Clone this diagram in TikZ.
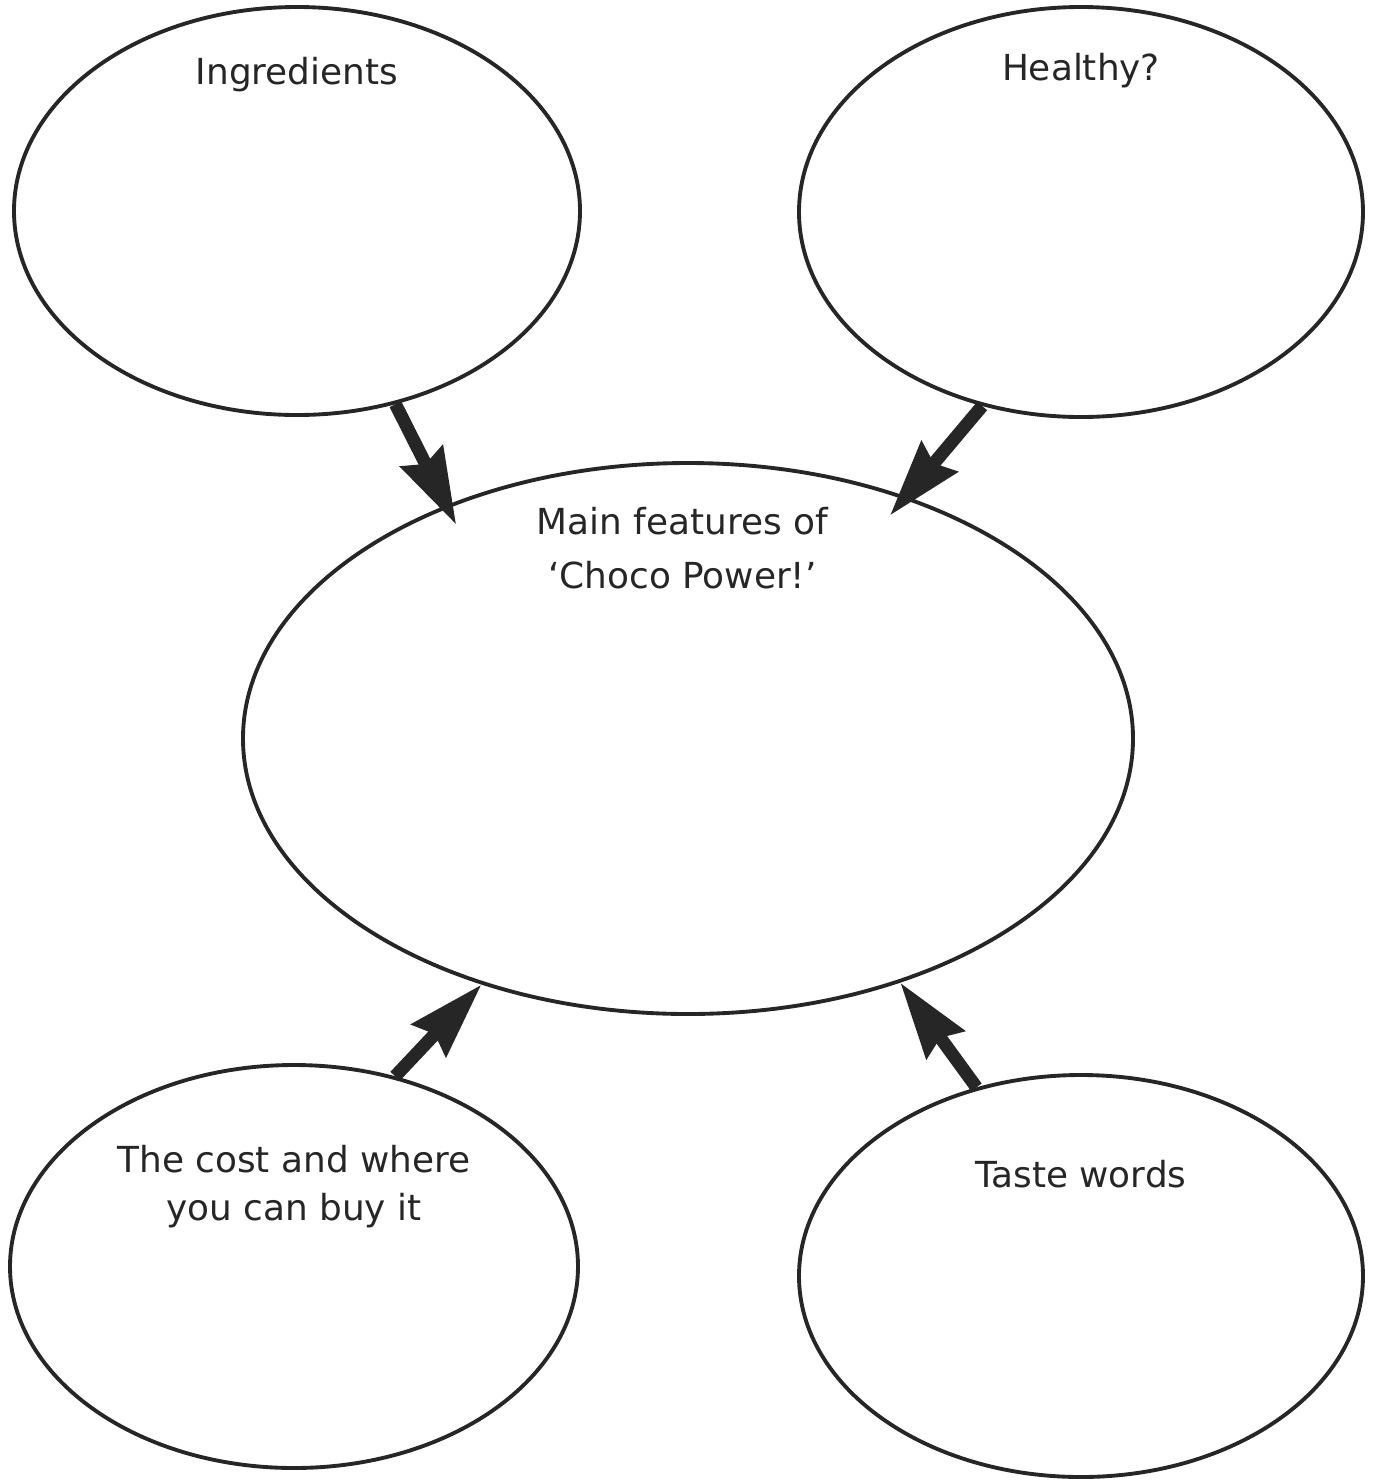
\documentclass[tikz,border=0pt]{standalone}
\usepackage{fontspec}
\setmainfont{DejaVu Sans}
\usetikzlibrary{shapes.geometric, arrows.meta, positioning}

\begin{document}
\begin{tikzpicture}[
> = {Stealth[length=7.6mm, width=4.6mm, inset=0.8mm]}, % arrow head style
line width = 1.1pt, % outline of the bubbles
every node/.style = {font=\fontsize{10.2}{14}\selectfont, text=black!85}
]

\tikzstyle{bubble}=[
draw = black!85,
ellipse,
line width = 1.1pt,
inner sep = 0pt
]

\tikzstyle{link}=[
->,
draw = black!85,
line width = 3.7pt
]

\useasboundingbox (0,0) rectangle (13.78,-14.83);

\node[bubble, minimum width=5.66cm, minimum height=4.08cm] (ingr) at (2.97,-2.11) {};
\node[bubble, minimum width=5.64cm, minimum height=4.10cm] (heal) at (10.81,-2.12) {};
\node[bubble, minimum width=8.90cm, minimum height=5.51cm] (main) at (6.88,-7.385) {};
\node[bubble, minimum width=5.68cm, minimum height=4.03cm] (cost) at (2.94,-12.665) {};
\node[bubble, minimum width=5.64cm, minimum height=4.02cm] (taste) at (10.81,-12.76) {};

% texts near the top of each bubble (base = last line)
\node[below=0.795cm of ingr.north, anchor=base] (ingrtxt) {Ingredients};
\node[below=0.755cm of heal.north, anchor=base] (healtxt) {Healthy?};
\node[below=1.27cm of main.north, anchor=base, xshift=-0.055cm, align=center,
      font=\fontsize{10.2}{15.2}\selectfont] (maintxt) {Main features of\\`Choco Power!'};
\node[below=1.57cm of cost.north, anchor=base, align=center,
      font=\fontsize{10.2}{13.5}\selectfont] (costtxt) {The cost and where\\you can buy it};
\node[below=1.14cm of taste.north, anchor=base] (tastetxt) {Taste words};

\draw[link, shorten >=-2.2mm] (ingr.-63) -- (main.136);
\draw[link, shorten >=-2.5mm] (heal.243) -- (main.48);
\draw[link] (cost.62) -- (main.230);
\draw[link] (taste.119) -- (main.311);

\end{tikzpicture}
\end{document}
